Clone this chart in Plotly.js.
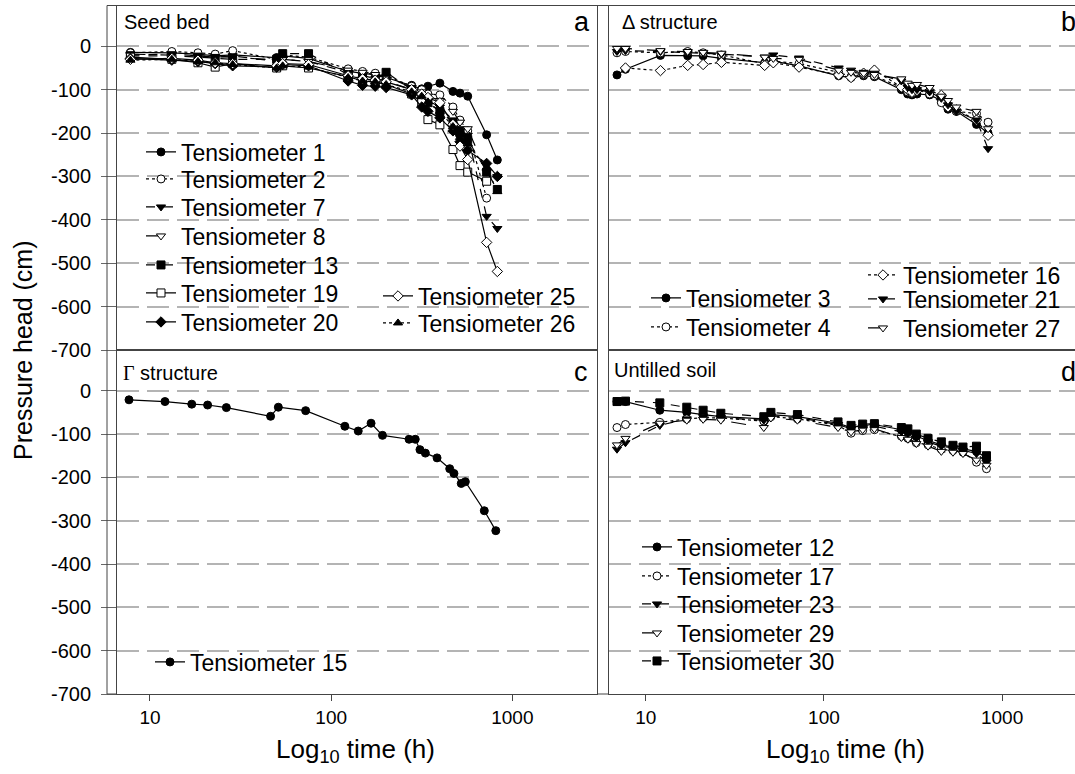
<!DOCTYPE html>
<html>
<head>
<meta charset="utf-8">
<script src="https://cdn.plot.ly/plotly-3.0.1.min.js"></script>
<style>html,body{margin:0;padding:0;background:#fff;}#chart{width:1075px;height:774px;}</style>
</head>
<body>
<div id="chart"></div>
<script>
// ---------- DATA ----------
// Panel a: Seed bed
const timeA = [7.8, 13.2, 18.4, 22.9, 28.6, 50, 54, 75, 124, 149, 175, 201, 278, 316, 342, 398, 470, 514, 567, 721, 826];
const tens1  = [-14, -15, -18, -22, -20, -26, -22, -28, -58, -62, -66, -72, -90, -98, -92, -85, -104, -108, -115, -204, -262];
const tens2  = [-15, -12, -15, -18, -10, -30, -20, -25, -52, -58, -62, -68, -92, -100, -110, -112, -140, -170, -195, -350, null];
const tens7  = [-20, -18, -22, -25, -22, -35, -30, -35, -60, -68, -75, -80, -100, -115, -125, -140, -170, -190, -205, -392, -420];
const tens8  = [-18, -20, -22, -24, -25, -32, -30, -35, -55, -60, -65, -70, -95, -105, -115, -125, -150, -175, -190, -290, -300];
const tens13 = [-22, -22, -25, -28, -30, -30, -17, -17, -65, -75, -78, -60, -100, -120, -130, -150, -175, -200, -215, -290, -330];
const tens19 = [-25, -30, -38, -48, -40, -50, -45, -50, -70, -80, -82, -88, -110, -130, -169, -181, -238, -275, -290, -311, null];
const tens20 = [-28, -32, -35, -40, -45, -48, -42, -45, -80, -90, -92, -95, -112, -140, -150, -165, -195, -220, -240, -270, -300];
const tens25 = [-30, -28, -32, -38, -40, -45, -40, -42, -68, -75, -78, -82, -100, -110, -118, -130, -180, -230, -261, -452, -519];
const tens26 = [-32, -30, -35, -38, -42, -50, -45, -48, -72, -80, -82, -88, -105, -115, -128, -150, -185, -210, -225, -280, -335];

// Panel b: Delta structure
const timeB = [6.9, 7.7, 12.1, 17.2, 21, 26.6, 46.5, 52, 72.5, 121, 142, 167, 192, 272, 295, 312, 333, 392, 456, 497, 554, 718, 834];
const tens3  = [-66, -53, -21, -22, -22, -28, -38, -34, -45, -68, -72, -68, -70, -100, -110, -112, -110, -112, -125, -145, -150, -180, -200];
const tens4  = [-15, -12, -15, -12, -15, -20, -40, -34, -40, -60, -70, -65, -68, -95, -105, -108, -100, -110, -130, -140, -150, -155, -175];
const tens16 = [null, -50, -56, -44, -42, -37, -44, -38, -48, -66, -72, -62, -55, -94, -100, -106, -102, -102, -113, -140, -147, -170, -205];
const tens21 = [-12, -10, -12, -15, -15, -18, -25, -20, -27, -50, -55, -60, -62, -80, -95, -100, -100, -105, -120, -135, -150, -170, -236];
const tens27 = [-5, -5, -10, -12, -14, -16, -25, -28, -30, -55, -60, -62, -65, -75, -85, -90, -88, -95, -115, -125, -140, -150, -190];

// Panel c: Gamma structure
const timeC = [7.66, 12.1, 17.0, 20.8, 26.4, 46.3, 51.1, 72.3, 119, 141, 166, 192, 269, 291, 309, 331, 384, 451, 476, 522, 550, 700, 810];
const tens15 = [-21, -25, -31, -33, -39, -59, -38, -46, -82, -93, -75, -103, -112, -112, -136, -144, -155, -180, -191, -214, -210, -277, -323];

// Panel d: Untilled soil
const timeD = [6.9, 7.7, 12, 17, 21, 26.4, 46, 50.4, 71, 120, 142, 165, 192, 272, 296, 330, 384, 456, 530, 603, 718, 817];
const tens12 = [-25, -25, -45, -50, -55, -60, -65, -55, -60, -75, -85, -80, -78, -90, -95, -105, -115, -125, -130, -135, -140, -155];
const tens17 = [-85, -78, -73, -65, -62, -63, -70, -60, -65, -80, -98, -92, -90, -105, -110, -120, -125, -135, -138, -142, -165, -180];
const tens23 = [-135, -120, -80, -65, -60, -62, -68, -58, -62, -78, -88, -85, -82, -95, -100, -110, -118, -128, -132, -138, -145, -165];
const tens29 = [-125, -110, -75, -68, -66, -68, -85, -63, -68, -85, -95, -90, -88, -108, -112, -122, -128, -140, -142, -145, -160, -172];
const tens30 = [-25, -24, -28, -38, -45, -52, -60, -50, -55, -72, -80, -77, -76, -85, -88, -100, -110, -118, -126, -130, -128, -150];

const yTickVals = [0, -100, -200, -300, -400, -500, -600, -700];
const yTickText = ["0", "-100", "-200", "-300", "-400", "-500", "-600", "-700"];
const xTickVals = [10, 100, 1000];
const xTickText = ["10", "100", "1000"];

// ---------- STYLE / LAYOUT ----------
const W = 1075, H = 774;
const FONT = "Liberation Sans, Arial, sans-serif";
const px = v => v / W;
const py = v => 1 - v / H;

const A = ["x", "y"], B = ["x2", "y2"], C = ["x3", "y3"], D = ["x4", "y4"];
// [name, x, y, axes, symbol, filled, dash, legend text-left px, legend row-centre px]
const specs = [
  ["Tensiometer 1",  timeA, tens1,  A, "circle", true,  "solid",    181, 152],
  ["Tensiometer 2",  timeA, tens2,  A, "circle", false, "dot",      181, 179],
  ["Tensiometer 7",  timeA, tens7,  A, "triangle-down", true,  "dash",     181, 207],
  ["Tensiometer 8",  timeA, tens8,  A, "triangle-down", false, "longdash", 181, 236],
  ["Tensiometer 13", timeA, tens13, A, "square", true,  "dash",     181, 265],
  ["Tensiometer 19", timeA, tens19, A, "square", false, "solid",    181, 293],
  ["Tensiometer 20", timeA, tens20, A, "diamond", true, "solid",    181, 322],
  ["Tensiometer 25", timeA, tens25, A, "diamond", false, "solid",   418, 296],
  ["Tensiometer 26", timeA, tens26, A, "triangle-up", true, "dot",  418, 323],
  ["Tensiometer 3",  timeB, tens3,  B, "circle", true,  "solid",    686, 298],
  ["Tensiometer 4",  timeB, tens4,  B, "circle", false, "dot",      686, 327],
  ["Tensiometer 16", timeB, tens16, B, "diamond", false, "dot",     903, 275],
  ["Tensiometer 21", timeB, tens21, B, "triangle-down", true,  "dash",     903, 299],
  ["Tensiometer 27", timeB, tens27, B, "triangle-down", false, "longdash", 903, 328],
  ["Tensiometer 15", timeC, tens15, C, "circle", true,  "solid",    190, 662],
  ["Tensiometer 12", timeD, tens12, D, "circle", true,  "solid",    677, 547],
  ["Tensiometer 17", timeD, tens17, D, "circle", false, "dot",      677, 576],
  ["Tensiometer 23", timeD, tens23, D, "triangle-down", true,  "dash",     677, 604],
  ["Tensiometer 29", timeD, tens29, D, "triangle-down", false, "longdash", 677, 633],
  ["Tensiometer 30", timeD, tens30, D, "square", true,  "dash",     677, 661]
];

const legendCommon = {
  bgcolor: "rgba(255,255,255,0)", borderwidth: 0, font: {family: FONT, size: 23, color: "#000"},
  xanchor: "left", yanchor: "middle", itemclick: false, itemdoubleclick: false
};

const data = [];
const layout = {
  width: W, height: H, paper_bgcolor: "#fff", plot_bgcolor: "#fff",
  margin: {l: 0, r: 0, t: 0, b: 0, pad: 0},
  showlegend: true,
  font: {family: FONT, color: "#000"}
};

specs.forEach((s, i) => {
  const lg = i === 0 ? "legend" : "legend" + (i + 1);
  data.push({
    type: "scatter", mode: "lines+markers", name: s[0], x: s[1], y: s[2],
    xaxis: s[3][0], yaxis: s[3][1], legend: lg, connectgaps: false,
    line: {color: "#000", width: 1.2, dash: s[6]},
    marker: {symbol: s[4], size: 8, color: s[5] ? "#000" : "#fff", line: {color: "#000", width: 1}}
  });
  layout[lg] = Object.assign({}, legendCommon, {x: px(s[7] - 40), y: py(s[8])});
});

const topDom = [py(350), py(5.5)];
const botDom = [py(694), py(350)];
const leftDom = [px(117), px(597)];
const rightDom = [px(609), 1];
const leftRange = [0.818, 3.467];
const rightRange = [0.794, 3.409];
const yRange = [-700, 94];

function yax(dom, anchor, labels) {
  const ax = {
    domain: dom, range: yRange, anchor: anchor,
    tickvals: yTickVals.slice(0, 7), ticktext: yTickText.slice(0, 7),
    showticklabels: false, ticks: "",
    showgrid: true, gridcolor: "#b4b4b4", gridwidth: 2, griddash: "22px,8px", zeroline: false,
    showline: true, linecolor: "#444", linewidth: 1, mirror: labels, automargin: false
  };
  if (labels) {
    Object.assign(ax, {
      tickvals: yTickVals, ticktext: yTickText, showticklabels: true,
      ticks: "outside", ticklen: 15, tickcolor: "#666", tickwidth: 1, ticklabelstandoff: 6,
      tickfont: {family: FONT, size: 20, color: "#000"}
    });
  }
  return ax;
}
function xax(dom, range, anchor, showLabels) {
  return {
    type: "log", domain: dom, range: range, anchor: anchor,
    tickvals: xTickVals, ticktext: xTickText, showticklabels: showLabels,
    ticks: showLabels ? "outside" : "", ticklen: 6, tickcolor: "#444",
    tickfont: {family: FONT, size: 19, color: "#000"},
    showgrid: false, zeroline: false, showline: true, linecolor: "#444", linewidth: 1, mirror: true,
    automargin: false
  };
}
layout.xaxis = xax(leftDom, leftRange, "y", false);
layout.yaxis = yax(topDom, "x", true);
layout.xaxis2 = xax(rightDom, rightRange, "y2", false);
layout.yaxis2 = yax(topDom, "x2", false);
layout.xaxis3 = xax(leftDom, leftRange, "y3", true);
layout.yaxis3 = yax(botDom, "x3", true);
layout.xaxis4 = xax(rightDom, rightRange, "y4", true);
layout.yaxis4 = yax(botDom, "x4", false);

const frame = {color: "#444", width: 1};
function pline(x0, y0, x1, y1) {
  return {type: "line", xref: "paper", yref: "paper", x0: px(x0), x1: px(x1), y0: py(y0), y1: py(y1), line: frame};
}
function blank(x0, y0, x1, y1) {
  return {type: "rect", layer: "between", xref: "paper", yref: "paper", x0: px(x0), x1: px(x1), y0: py(y0), y1: py(y1),
          fillcolor: "#fff", line: {width: 0}};
}
layout.shapes = [
  blank(118, 125, 346, 340), blank(350, 284, 595, 340),
  blank(615, 256, 1075, 342), blank(118, 640, 372, 692), blank(611, 515, 858, 692),
  pline(107, 694, 107, 5.5), pline(107, 5.5, 117, 5.5), pline(107, 694, 117, 694),
  pline(597, 5.5, 609, 5.5), pline(597, 694, 609, 694)
];

function ann(text, x, y, size, anchor, extra) {
  return Object.assign({text: text, xref: "paper", yref: "paper", x: px(x), y: py(y), xanchor: anchor, yanchor: "middle",
    showarrow: false, font: {family: FONT, size: size, color: "#000"}}, extra || {});
}
layout.annotations = [
  ann("Seed bed", 122, 22, 20, "left"),
  ann("a", 592, 22, 27, "right"),
  ann("Δ structure", 620, 22, 20, "left"),
  ann("b", 1059, 22, 27, "left"),
  ann("<span style='font-family:Liberation Serif'>Γ</span> structure", 121, 373, 20, "left"),
  ann("c", 590, 372, 27, "right"),
  ann("Untilled soil", 612, 370, 20, "left"),
  ann("d", 1059, 372, 27, "left"),
  ann("Pressure head (cm)", 23, 350, 25, "center", {textangle: -90}),
  ann("Log<sub>10</sub> time (h)", 355, 750, 26, "center"),
  ann("Log<sub>10</sub> time (h)", 845, 750, 26, "center")
];

Plotly.newPlot("chart", data, layout, {staticPlot: true, displayModeBar: false});
</script>
</body>
</html>
